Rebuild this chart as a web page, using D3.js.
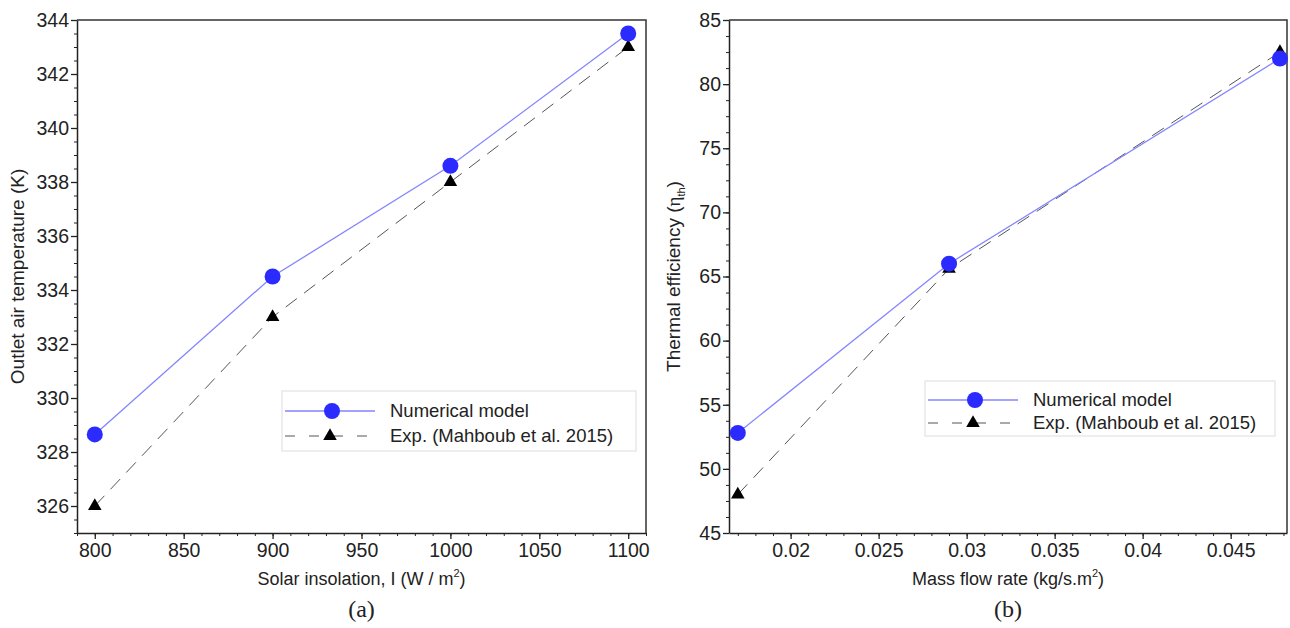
<!DOCTYPE html>
<html>
<head>
<meta charset="utf-8">
<script src="https://cdn.jsdelivr.net/npm/d3@7"></script>
<style>
  body { margin: 0; background: #fff; }
  svg text { font-family: "Liberation Sans", Arial, sans-serif; fill: #222; }
</style>
</head>
<body>
<script>
const width = 1290;
const height = 628;

// panel (a)
const insolation = [800, 900, 1000, 1100];
const tempModel = [328.65, 334.5, 338.6, 343.5];
const tempExp = [326.0, 333.0, 338.0, 343.0];
const xTicksA = [800, 850, 900, 950, 1000, 1050, 1100];
const yTicksA = [326, 328, 330, 332, 334, 336, 338, 340, 342, 344];

// panel (b)
const massFlow = [0.017, 0.029, 0.0478];
const effModel = [52.8, 66.0, 82.0];
const effExp = [48.0, 65.6, 82.5];
const xTicksB = [0.02, 0.025, 0.03, 0.035, 0.04, 0.045];
const yTicksB = [45, 50, 55, 60, 65, 70, 75, 80, 85];

const seriesNames = ["Numerical model", "Exp. (Mahboub et al. 2015)"];

const svg = d3.select("body").append("svg")
  .attr("width", width)
  .attr("height", height);

function panel(opt) {
  const x = d3.scaleLinear().domain(opt.xDomain).range([opt.left, opt.right]);
  const y = d3.scaleLinear().domain(opt.yDomain).range([opt.bottom, opt.top]);
  const g = svg.append("g");

  // minor ticks
  g.append("g")
    .attr("transform", `translate(0,${opt.bottom})`)
    .call(d3.axisBottom(x).tickValues(opt.xMinor).tickSize(3).tickFormat(""))
    .call(a => a.select(".domain").remove());
  g.append("g")
    .attr("transform", `translate(${opt.left},0)`)
    .call(d3.axisLeft(y).tickValues(opt.yMinor).tickSize(3).tickFormat(""))
    .call(a => a.select(".domain").remove());

  // major ticks
  const xa = g.append("g")
    .attr("transform", `translate(0,${opt.bottom})`)
    .call(d3.axisBottom(x).tickValues(opt.xTicks).tickSize(6).tickSizeOuter(0).tickPadding(4).tickFormat(opt.xFormat));
  const ya = g.append("g")
    .attr("transform", `translate(${opt.left},0)`)
    .call(d3.axisLeft(y).tickValues(opt.yTicks).tickSize(6).tickSizeOuter(0).tickPadding(2));
  [xa, ya].forEach(a => {
    a.selectAll("text").style("font-size", "19.5px").attr("fill", "#222");
    a.selectAll("line").attr("stroke", "#222").attr("stroke-width", 1.3);
    a.select(".domain").attr("stroke", "#222").attr("stroke-width", 1.5);
  });
  g.selectAll("line").attr("stroke", "#222");

  // top and right frame
  g.append("path")
    .attr("d", `M${opt.left},${opt.top}H${opt.right}V${opt.bottom}`)
    .attr("fill", "none")
    .attr("stroke", "#333")
    .attr("stroke-width", 1.5);

  const expLine = d3.line().x(d => x(d[0])).y(d => y(d[1]));
  const expPts = opt.xs.map((v, i) => [v, opt.exp[i]]);
  const modPts = opt.xs.map((v, i) => [v, opt.model[i]]);

  g.append("path")
    .attr("d", expLine(expPts))
    .attr("fill", "none")
    .attr("stroke", "#555")
    .attr("stroke-width", 1)
    .attr("stroke-dasharray", "14,9");
  g.append("path")
    .attr("d", expLine(modPts))
    .attr("fill", "none")
    .attr("stroke", "#8585ff")
    .attr("stroke-width", 1.3);

  g.selectAll(".tri")
    .data(expPts)
    .join("path")
    .attr("transform", d => `translate(${x(d[0])},${y(d[1])})`)
    .attr("d", d3.symbol(d3.symbolTriangle, 80))
    .attr("fill", "#000");
  g.selectAll(".dot")
    .data(modPts)
    .join("circle")
    .attr("cx", d => x(d[0]))
    .attr("cy", d => y(d[1]))
    .attr("r", 8)
    .attr("fill", "#2b2bff");

  // axis titles
  const cx = (opt.left + opt.right) / 2;
  const xt = svg.append("text")
    .attr("x", cx)
    .attr("y", 585)
    .attr("text-anchor", "middle")
    .style("font-size", "18px");
  xt.append("tspan").text(opt.xTitle);
  xt.append("tspan").text("2").style("font-size", "11px").attr("dy", -8);
  xt.append("tspan").text(")").attr("dy", 8);

  const yt = svg.append("text")
    .attr("transform", `translate(${opt.yTitleX},${(opt.top + opt.bottom) / 2}) rotate(-90)`)
    .attr("text-anchor", "middle")
    .style("font-size", "19px");
  opt.yTitle(yt);

  svg.append("text")
    .attr("x", cx)
    .attr("y", 617)
    .attr("text-anchor", "middle")
    .style("font-family", "'Liberation Serif', 'Times New Roman', serif")
    .style("font-size", "24px")
    .text(opt.caption);

  // legend
  const L = opt.legend;
  const lg = svg.append("g").attr("transform", `translate(${L.x},${L.y})`);
  lg.append("rect")
    .attr("width", L.w)
    .attr("height", L.h)
    .attr("fill", "#fff")
    .attr("stroke", "#ddd")
    .attr("stroke-width", 1);
  lg.append("line")
    .attr("x1", 3).attr("x2", 93)
    .attr("y1", L.r1).attr("y2", L.r1)
    .attr("stroke", "#8585ff").attr("stroke-width", 1.3);
  lg.append("circle")
    .attr("cx", 50).attr("cy", L.r1).attr("r", 8).attr("fill", "#2b2bff");
  lg.append("line")
    .attr("x1", 3).attr("x2", 93)
    .attr("y1", L.r2).attr("y2", L.r2)
    .attr("stroke", "#555").attr("stroke-width", 1)
    .attr("stroke-dasharray", "10,14");
  lg.append("path")
    .attr("transform", `translate(48,${L.r2})`)
    .attr("d", d3.symbol(d3.symbolTriangle, 80))
    .attr("fill", "#000");
  seriesNames.forEach((s, i) => {
    lg.append("text")
      .attr("x", 108)
      .attr("y", i === 0 ? L.r1 : L.r2)
      .attr("dy", "0.35em")
      .style("font-size", "18.5px")
      .text(s);
  });
}

panel({
  left: 77, right: 646, top: 20, bottom: 533,
  xDomain: [790, 1110], yDomain: [325, 344],
  xTicks: xTicksA, yTicks: yTicksA,
  xMinor: d3.range(790, 1111, 10),
  yMinor: d3.range(325, 344.01, 0.5),
  xFormat: d3.format("d"),
  xs: insolation, model: tempModel, exp: tempExp,
  xTitle: "Solar insolation, I (W / m",
  yTitleX: 24,
  yTitle: t => t.text("Outlet air temperature (K)"),
  caption: "(a)",
  legend: {x: 282, y: 391, w: 354, h: 60, r1: 20, r2: 45}
});

panel({
  left: 729, right: 1287, top: 20, bottom: 533,
  xDomain: [0.0165, 0.0482], yDomain: [45, 85],
  xTicks: xTicksB, yTicks: yTicksB,
  xMinor: d3.range(0.017, 0.0482, 0.001),
  yMinor: d3.range(45, 85.01, 1.25),
  xFormat: d => String(+d.toFixed(3)),
  xs: massFlow, model: effModel, exp: effExp,
  xTitle: "Mass flow rate (kg/s.m",
  yTitleX: 680,
  yTitle: t => {
    t.append("tspan").text("Thermal efficiency (");
    t.append("tspan").text("η").style("font-family", "'Liberation Serif', serif");
    t.append("tspan").text("th").style("font-size", "11px").attr("dy", 5);
    t.append("tspan").text(")").attr("dy", -5);
  },
  caption: "(b)",
  legend: {x: 925, y: 381, w: 350, h: 55, r1: 19, r2: 42}
});
</script>
</body>
</html>
